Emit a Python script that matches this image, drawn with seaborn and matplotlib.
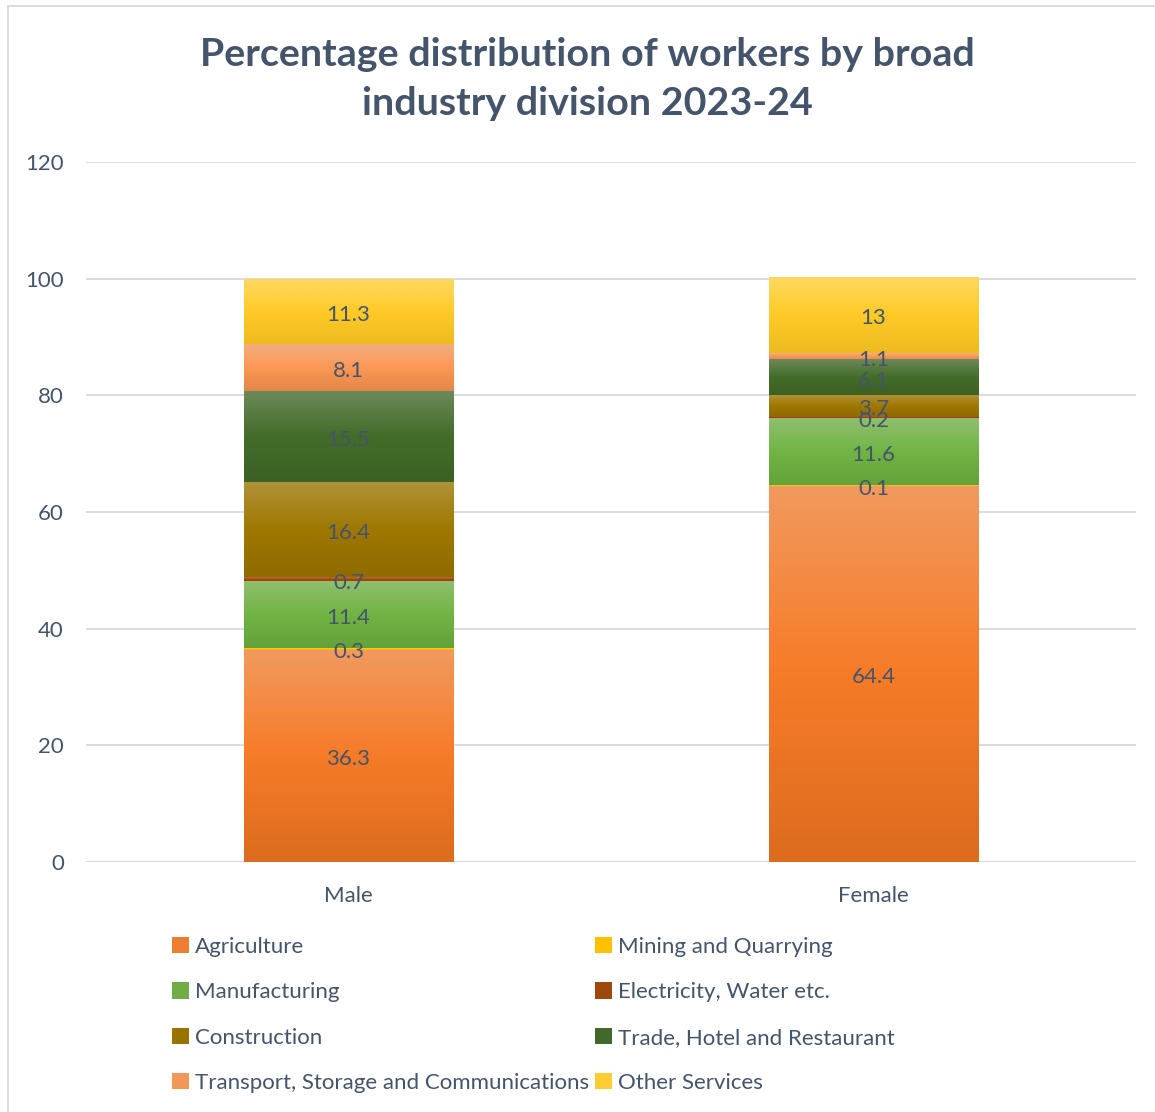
import numpy as np
import pandas as pd
import matplotlib
matplotlib.use("Agg")
import matplotlib.pyplot as plt
import matplotlib.colors as mcolors
from matplotlib.patches import Patch, Rectangle
import seaborn as sns

# ---------------- data ----------------
genders = ["Male", "Female"]
industries = ["Agriculture", "Mining and Quarrying", "Manufacturing",
              "Electricity, Water etc.", "Construction",
              "Trade, Hotel and Restaurant",
              "Transport, Storage and Communications", "Other Services"]
agriculture = [36.3, 64.4]
mining = [0.3, 0.1]
manufacturing = [11.4, 11.6]
electricity = [0.7, 0.2]
construction = [16.4, 3.7]
trade = [15.5, 6.1]
transport = [8.1, 1.1]
other_services = [11.3, 13]
series = [agriculture, mining, manufacturing, electricity, construction,
          trade, transport, other_services]
label_texts = [["36.3", "64.4"], ["0.3", "0.1"], ["11.4", "11.6"], ["0.7", "0.2"],
               ["16.4", "3.7"], ["15.5", "6.1"], ["8.1", "1.1"], ["11.3", "13"]]
y_ticks = [0, 20, 40, 60, 80, 100, 120]

colors = ["#ED7D31", "#FFC000", "#70AD47", "#9E480E",
          "#997300", "#43682B", "#F1975A", "#FFCD33"]

TEXT = "#44546A"
GRID = "#D9D9D9"

sns.set_theme(style="white")
plt.rcParams["font.family"] = ["Lato", "DejaVu Sans"]

fig = plt.figure(figsize=(11.55, 11.12), dpi=100)
W, H = 1155, 1112
ax = fig.add_axes([86 / W, 1 - 862 / H, (1136 - 86) / W, (862 - 162) / H])

vals = np.array(series)
cum = np.cumsum(vals, axis=0)
bottoms = np.vstack([np.zeros(len(genders)), cum[:-1]])


def hsv_adj(rgb, s_mul, v_mul):
    h, s, v = mcolors.rgb_to_hsv(rgb)
    return mcolors.hsv_to_rgb([h, min(1, s * s_mul), min(1, v * v_mul)])


def gradient_cmap(base):
    rgb = np.array(mcolors.to_rgb(base))
    top = rgb + (1 - rgb) * 0.22
    mid = hsv_adj(rgb, 1.06, 1.04)
    bot = hsv_adj(rgb, 1.08, 0.93)
    return mcolors.LinearSegmentedColormap.from_list("g", [bot, mid, top])


# draw cumulative bars (top-most first) with seaborn, then gradient-fill each segment
for i in range(len(series) - 1, -1, -1):
    df = pd.DataFrame({"gender": genders, "top": cum[i]})
    before = len(ax.patches)
    sns.barplot(data=df, x="gender", y="top", color=colors[i], width=0.4,
                saturation=1, ax=ax, zorder=2, linewidth=0)
    cmap = gradient_cmap(colors[i])
    grad = np.linspace(0, 1, 256).reshape(-1, 1)
    for j, p in enumerate(ax.patches[before:]):
        x0 = p.get_x()
        x1 = x0 + p.get_width()
        ax.imshow(grad, cmap=cmap, origin="lower", aspect="auto",
                  extent=[x0, x1, bottoms[i][j], cum[i][j]],
                  zorder=3 + (len(series) - i) * 0.01, interpolation="bilinear")

# value labels
for i in range(len(series)):
    for j in range(len(genders)):
        ax.annotate(label_texts[i][j], (j, bottoms[i][j] + vals[i][j] / 2),
                    xytext=(0, -2.2), textcoords="offset points",
                    ha="center", va="center", fontsize=16, color=TEXT, zorder=10)

ax.set_xlim(-0.5, 1.5)
ax.set_ylim(0, 120)
ax.set_yticks(y_ticks)
ax.set_yticklabels([str(t) for t in y_ticks])
ax.grid(axis="y", color=GRID, linewidth=1.3, zorder=0)
ax.set_axisbelow(True)
for s in ax.spines.values():
    s.set_visible(False)
ax.axhline(0, color=GRID, linewidth=1.3, zorder=1)
ax.tick_params(axis="y", length=0, pad=16, labelsize=16, labelcolor=TEXT)
ax.tick_params(axis="x", length=0, pad=17, labelsize=16, labelcolor=TEXT)
ax.set_xlabel("")
ax.set_ylabel("")

fig.text(587 / W, 1 - 79 / H,
         "Percentage distribution of workers by broad\nindustry division 2023-24",
         ha="center", va="center", fontsize=28.4, fontweight="bold", color=TEXT,
         linespacing=1.48)

# legend filled row-wise (2 columns)
order = [0, 2, 4, 6, 1, 3, 5, 7]
handles = [Patch(facecolor=colors[k], edgecolor="none") for k in order]
labels = [industries[k] for k in order]
fig.legend(handles, labels, ncol=2, loc="upper left",
           bbox_to_anchor=(172 / W, 1 - 937 / H), frameon=False,
           fontsize=16, labelcolor=TEXT, handlelength=0.75, handleheight=0.75,
           handletextpad=0.3, columnspacing=0.25, labelspacing=1.14,
           borderaxespad=0, borderpad=0)

# chart area border
fig.patches.append(Rectangle((8 / W, -0.1), 1.2, 1 - 6 / H + 0.1,
                             transform=fig.transFigure, fill=False,
                             edgecolor=GRID, linewidth=1.3))

fig.savefig("out.png", dpi=100, facecolor="white")
